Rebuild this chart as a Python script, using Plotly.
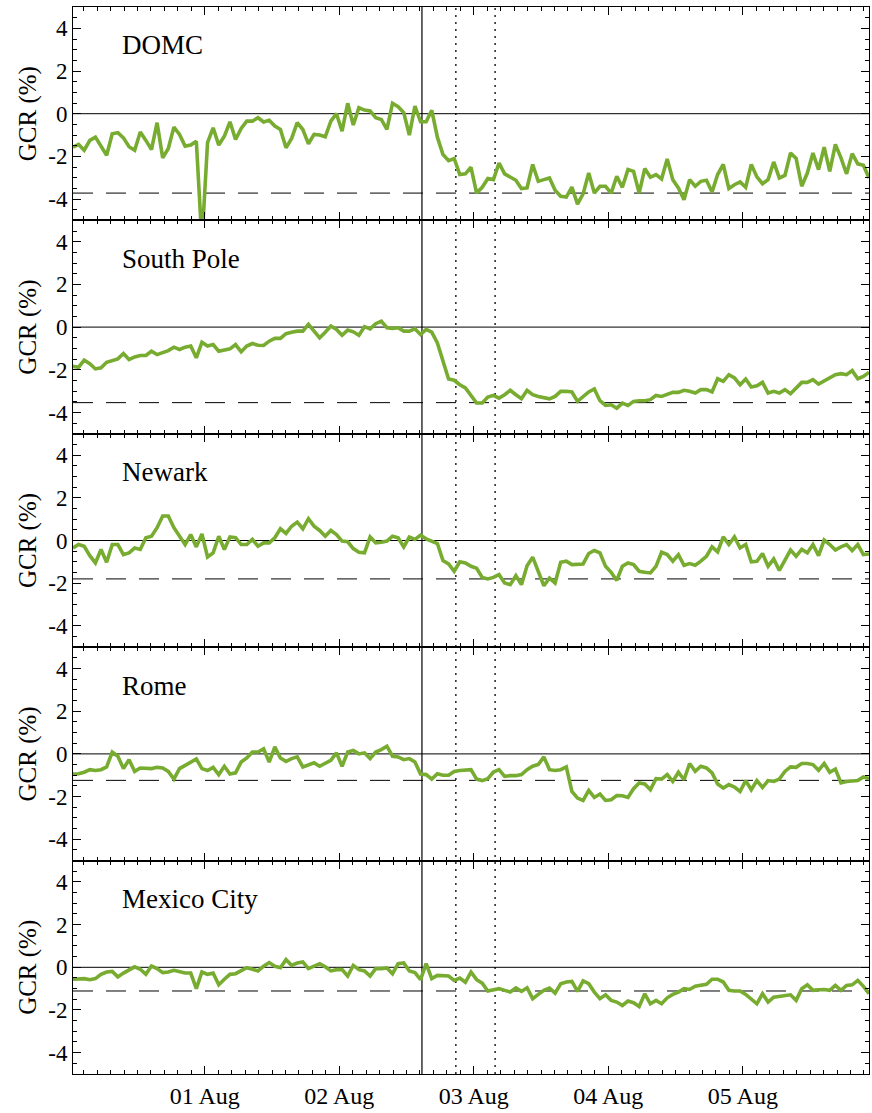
import pandas as pd
import plotly.graph_objects as go
from plotly.subplots import make_subplots

# ---------------- data ----------------
start_time = "2022-07-31 00:30"
n_hours = 143
stations = ["DOMC", "South Pole", "Newark", "Rome", "Mexico City"]

domc = [-1.57, -1.44, -1.71, -1.25, -1.10, -1.52, -1.95, -0.94, -0.89, -1.13,
        -1.55, -1.71, -0.86, -1.25, -1.68, -0.42, -2.07, -1.63, -0.63, -0.97,
        -1.52, -1.47, -1.29, -6.00, -1.36, -0.66, -1.47, -1.05, -0.38, -1.21,
        -0.69, -0.35, -0.35, -0.19, -0.39, -0.31, -0.58, -0.74, -1.60, -1.16,
        -0.42, -0.74, -1.41, -0.97, -1.00, -1.08, -0.35, 0.00, -0.82, 0.49,
        -0.53, 0.28, 0.17, 0.13, -0.19, -0.27, -0.74, 0.49, 0.33, 0.05,
        -1.00, 0.36, -0.38, -0.38, 0.16, -1.10, -1.91, -2.20, -2.10, -2.85,
        -2.82, -2.51, -3.72, -3.45, -3.04, -3.09, -2.31, -2.82, -2.98, -3.12,
        -3.51, -3.48, -2.38, -3.17, -3.09, -3.01, -3.59, -3.87, -3.91, -3.44,
        -4.24, -3.76, -2.78, -3.72, -3.40, -3.40, -3.72, -2.93, -3.45, -2.62,
        -2.70, -3.72, -2.57, -2.98, -2.85, -3.06, -2.12, -3.09, -3.48, -4.03,
        -3.09, -3.40, -3.17, -3.12, -3.67, -2.85, -2.38, -3.51, -3.33, -3.20,
        -3.45, -2.38, -2.96, -3.28, -3.09, -2.26, -3.01, -2.89, -1.84, -2.10,
        -3.40, -2.78, -1.84, -2.62, -1.57, -2.70, -1.44, -2.07, -2.82, -1.87,
        -2.35, -2.42, -3.01]

south_pole = [-1.84, -1.88, -1.55, -1.71, -1.96, -1.91, -1.65, -1.55, -1.49, -1.24,
              -1.52, -1.40, -1.33, -1.33, -1.13, -1.29, -1.21, -1.10, -0.94, -1.05,
              -0.94, -0.89, -1.44, -0.71, -0.89, -0.82, -1.13, -1.08, -1.02, -0.82,
              -1.16, -0.89, -0.77, -0.85, -0.86, -0.66, -0.53, -0.53, -0.31, -0.24,
              -0.19, -0.19, 0.13, -0.19, -0.50, -0.24, 0.05, -0.11, -0.38, -0.14,
              -0.22, -0.38, 0.02, -0.08, 0.16, 0.28, -0.03, -0.06, -0.03, -0.19,
              -0.19, -0.08, -0.35, -0.11, -0.24, -0.74, -1.60, -2.43, -2.49, -2.70,
              -2.85, -3.22, -3.56, -3.56, -3.28, -3.20, -3.33, -3.17, -2.96, -3.17,
              -3.36, -2.96, -3.17, -3.25, -3.29, -3.36, -3.25, -3.01, -3.01, -3.04,
              -3.48, -3.25, -3.04, -2.90, -3.45, -3.67, -3.64, -3.80, -3.56, -3.67,
              -3.48, -3.45, -3.45, -3.40, -3.20, -3.25, -3.14, -3.06, -3.06, -2.96,
              -3.01, -3.09, -2.93, -2.93, -3.04, -2.42, -2.54, -2.23, -2.38, -2.70,
              -2.43, -2.81, -2.75, -2.59, -3.09, -3.01, -3.09, -2.93, -3.12, -2.85,
              -2.59, -2.59, -2.46, -2.67, -2.51, -2.38, -2.23, -2.18, -2.23, -2.04,
              -2.42, -2.31, -2.12]

newark = [-0.35, -0.19, -0.27, -0.71, -1.05, -0.42, -1.02, -0.19, -0.19, -0.66,
          -0.58, -0.35, -0.42, 0.13, 0.20, 0.60, 1.15, 1.15, 0.60, 0.17,
          -0.19, 0.28, -0.30, 0.31, -0.77, -0.58, 0.20, -0.42, 0.17, 0.13,
          -0.19, -0.19, 0.05, -0.27, -0.11, -0.11, 0.13, 0.55, 0.33, 0.67,
          0.86, 0.55, 1.02, 0.67, 0.47, 0.20, 0.47, 0.28, -0.03, -0.06,
          -0.38, -0.55, -0.58, 0.17, -0.11, -0.08, -0.03, 0.20, 0.13, -0.30,
          0.16, 0.05, 0.25, 0.08, -0.03, -0.14, -0.94, -1.10, -1.44, -1.00,
          -1.05, -1.21, -1.30, -1.73, -1.80, -1.73, -1.60, -1.99, -2.07, -1.65,
          -2.07, -1.18, -0.78, -1.44, -2.12, -1.76, -1.99, -1.02, -0.97, -1.13,
          -1.10, -1.10, -0.61, -0.47, -0.58, -1.21, -1.49, -1.87, -1.21, -1.05,
          -1.13, -1.44, -1.49, -1.52, -1.21, -0.55, -0.66, -0.97, -0.66, -1.16,
          -1.08, -1.16, -0.97, -0.74, -0.30, -0.53, 0.17, -0.19, 0.17, -0.35,
          -0.19, -1.00, -0.97, -0.61, -1.21, -0.86, -1.40, -0.93, -0.45, -0.74,
          -0.42, -0.58, -0.19, -0.71, 0.02, -0.19, -0.45, -0.30, -0.19, -0.47,
          -0.19, -0.66, -0.63]

rome = [-0.94, -0.93, -0.86, -0.74, -0.78, -0.74, -0.61, 0.08, -0.11, -0.69,
        -0.27, -0.82, -0.66, -0.69, -0.69, -0.63, -0.66, -0.82, -1.18, -0.69,
        -0.53, -0.38, -0.24, -0.69, -0.78, -0.63, -0.97, -0.58, -0.94, -0.89,
        -0.38, -0.19, 0.09, 0.09, 0.24, -0.38, 0.33, -0.19, -0.35, -0.22,
        -0.14, -0.61, -0.53, -0.42, -0.58, -0.42, -0.30, 0.05, -0.58, 0.09,
        0.16, 0.00, 0.05, -0.22, 0.09, 0.20, 0.36, -0.11, -0.14, -0.27,
        -0.22, -0.38, -0.94, -0.97, -1.18, -0.93, -1.00, -1.00, -0.82, -0.78,
        -0.77, -0.74, -1.18, -1.25, -1.16, -0.85, -0.74, -1.05, -1.02, -1.02,
        -0.97, -0.74, -0.58, -0.50, -0.14, -0.74, -0.78, -0.74, -0.61, -1.76,
        -2.07, -2.18, -1.71, -2.04, -1.88, -2.18, -2.15, -1.95, -1.96, -2.04,
        -1.63, -1.36, -1.41, -1.68, -1.16, -1.18, -0.97, -1.29, -0.86, -1.21,
        -0.45, -0.82, -0.58, -0.66, -0.89, -1.41, -1.60, -1.44, -1.55, -1.76,
        -1.25, -1.68, -1.25, -1.57, -1.25, -1.29, -1.18, -0.82, -0.61, -0.63,
        -0.45, -0.45, -0.50, -0.77, -0.45, -0.86, -0.71, -1.36, -1.29, -1.29,
        -1.25, -1.08, -1.16]

mexico_city = [-0.56, -0.53, -0.53, -0.58, -0.53, -0.33, -0.22, -0.19, -0.45, -0.27,
               -0.14, 0.02, -0.09, -0.33, 0.06, -0.06, -0.25, -0.22, -0.14, -0.19,
               -0.27, -0.27, -1.00, -0.22, -0.33, -0.27, -0.82, -0.56, -0.33, -0.30,
               -0.14, -0.02, -0.09, -0.17, 0.05, 0.22, 0.05, -0.02, 0.36, 0.09,
               0.20, 0.25, -0.06, 0.06, 0.17, 0.02, -0.17, -0.11, -0.11, -0.41,
               0.09, -0.11, -0.17, -0.41, -0.06, -0.06, -0.03, -0.30, 0.17, 0.20,
               -0.17, -0.25, -0.58, 0.17, -0.53, -0.38, -0.38, -0.41, -0.61, -0.50,
               -0.70, -0.22, -0.58, -0.74, -1.11, -1.05, -1.00, -1.08, -1.16, -0.97,
               -1.13, -0.96, -1.47, -1.27, -1.08, -0.97, -1.21, -0.77, -0.69, -0.66,
               -1.13, -0.64, -0.77, -1.16, -1.47, -1.29, -1.55, -1.63, -1.79, -1.58,
               -1.66, -1.84, -1.24, -1.71, -1.55, -1.71, -1.43, -1.27, -1.16, -1.00,
               -1.04, -0.89, -0.85, -0.80, -0.56, -0.56, -0.69, -1.08, -1.11, -1.11,
               -1.27, -1.47, -1.71, -1.24, -1.63, -1.40, -1.36, -1.32, -1.29, -1.55,
               -1.00, -0.82, -1.08, -1.05, -1.04, -1.08, -0.85, -1.08, -0.85, -0.82,
               -0.61, -0.89, -1.24]

series = [domc, south_pole, newark, rome, mexico_city]
min_levels = [-3.72, -3.54, -1.80, -1.24, -1.11]

event_solid = "2022-08-02 14:45"
event_dotted = ["2022-08-02 20:48", "2022-08-03 03:48"]

day_ticks = ["2022-08-01", "2022-08-02", "2022-08-03", "2022-08-04", "2022-08-05"]
day_labels = ["01 Aug", "02 Aug", "03 Aug", "04 Aug", "05 Aug"]
y_tickvals = [-4, -2, 0, 2, 4]
y_ticktext = ["-4", "-2", "0", "2", "4"]

# ---------------- figure ----------------
times = pd.date_range(start_time, periods=n_hours, freq="h")

major_x = pd.date_range("2022-07-31 12:00", "2022-08-05 12:00", freq="12h")
label_map = dict(zip(pd.to_datetime(day_ticks), day_labels))
major_text = [label_map.get(t, "") for t in major_x]
minor_x = pd.date_range("2022-07-31 00:00", "2022-08-06 00:00", freq="144min")

GREEN = "#77AC30"
FONT = "Liberation Serif, Times New Roman, serif"

fig = make_subplots(rows=5, cols=1, shared_xaxes=True, vertical_spacing=0)

for i, (name, vals, lvl) in enumerate(zip(stations, series, min_levels), start=1):
    fig.add_trace(go.Scatter(x=times, y=vals, mode="lines",
                             line=dict(color=GREEN, width=3.6),
                             name=name, showlegend=False), row=i, col=1)
    xs = "" if i == 1 else str(i)
    # zero line
    fig.add_shape(type="line", xref=f"x{xs} domain", yref=f"y{xs}",
                  x0=0, x1=1, y0=0, y1=0, line=dict(color="black", width=1),
                  layer="below")
    # minimum level dashed line
    fig.add_shape(type="line", xref=f"x{xs} domain", yref=f"y{xs}",
                  x0=0, x1=1, y0=lvl, y1=lvl,
                  line=dict(color="black", width=1, dash="20px,13px"),
                  layer="below")
    fig.add_annotation(xref=f"x{xs}", yref=f"y{xs}",
                       x=times[0] + pd.Timedelta(hours=8.4), y=3.2,
                       text=name, showarrow=False, xanchor="left", yanchor="middle",
                       font=dict(family=FONT, size=27, color="black"))

# vertical event lines spanning all panels
fig.add_shape(type="line", xref="x5", yref="paper", x0=event_solid, x1=event_solid,
              y0=0, y1=1, line=dict(color="black", width=1.2), layer="below")
for ev in event_dotted:
    fig.add_shape(type="line", xref="x5", yref="paper", x0=ev, x1=ev,
                  y0=0, y1=1, line=dict(color="black", width=1.3, dash="2px,5px"),
                  layer="below")

fig.update_xaxes(range=[times[0], times[-1]], showgrid=False, zeroline=False,
                 showline=True, linecolor="black", linewidth=1, mirror="allticks",
                 ticks="inside", ticklen=8, tickcolor="black", tickwidth=1,
                 tickmode="array", tickvals=list(major_x), ticktext=major_text,
                 minor=dict(ticks="inside", ticklen=4, tickcolor="black", tickwidth=1,
                            tickmode="array", tickvals=list(minor_x), showgrid=False),
                 tickfont=dict(family=FONT, size=24, color="black"))

fig.update_yaxes(range=[-5, 5], showgrid=False, zeroline=False,
                 showline=True, linecolor="black", linewidth=1, mirror="allticks",
                 ticks="inside", ticklen=8, tickcolor="black", tickwidth=1,
                 tickmode="array", tickvals=y_tickvals, ticktext=y_ticktext,
                 minor=dict(ticks="inside", ticklen=4, tickcolor="black", tickwidth=1,
                            dtick=0.5, showgrid=False),
                 tickfont=dict(family=FONT, size=23, color="black"),
                 title=dict(text="GCR (%)", font=dict(family=FONT, size=25, color="black"),
                            standoff=4))

fig.update_layout(width=872, height=1113,
                  margin=dict(l=73, r=3, t=7, b=39),
                  font=dict(family=FONT, color="black"),
                  paper_bgcolor="white", plot_bgcolor="white",
                  showlegend=False)

fig.write_html("out.html")
